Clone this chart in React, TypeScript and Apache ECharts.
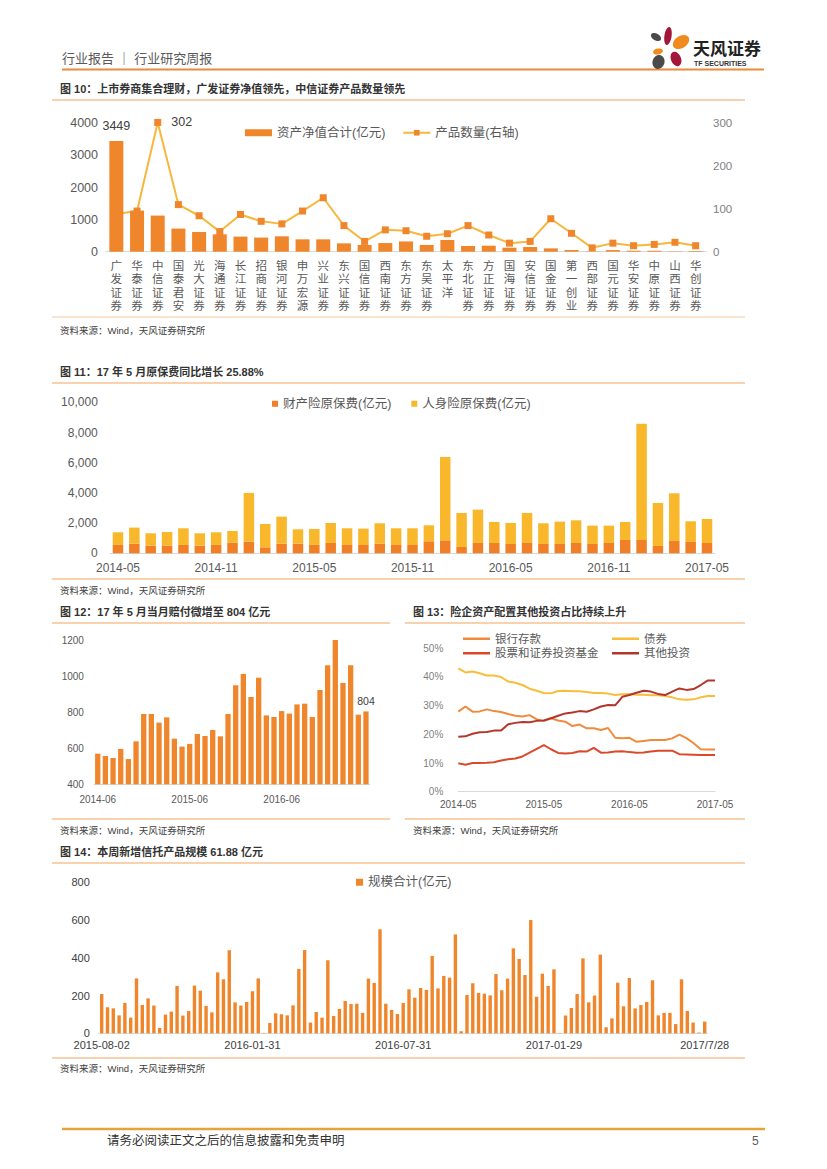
import React, { useEffect, useRef } from 'react';
import * as echarts from 'echarts';

// ---------- Chart 10 data ----------
const brokers = ['广发证券', '华泰证券', '中信证券', '国泰君安', '光大证券', '海通证券', '长江证券', '招商证券', '银河证券', '申万宏源', '兴业证券', '东兴证券', '国信证券', '西南证券', '东方证券', '东吴证券', '太平洋', '东北证券', '方正证券', '国海证券', '安信证券', '国金证券', '第一创业', '西部证券', '国元证券', '华安证券', '中原证券', '山西证券', '华创证券'];
const netAssets = [3449, 1280, 1125, 720, 615, 540, 470, 440, 480, 385, 385, 260, 210, 270, 320, 210, 365, 177, 187, 125, 146, 104, 52, 10, 50, 30, 30, 10, 20];
const productCounts = [88, 95, 302, 110, 84, 47, 87, 71, 65, 95, 126, 61, 24, 51, 49, 36, 42, 61, 39, 20, 24, 77, 43, 9, 20, 14, 17, 22, 14];

// ---------- Chart 11 data ----------
const propertyPremium = [552, 640, 508, 508, 552, 508, 552, 706, 773, 397, 640, 640, 552, 684, 552, 552, 640, 552, 552, 795, 861, 420, 684, 684, 618, 684, 618, 618, 684, 618, 684, 883, 883, 486, 817, 751, 684];
const lifePremium = [839, 1060, 817, 905, 1104, 817, 839, 773, 3223, 1546, 1788, 949, 1059, 1325, 1104, 1081, 1347, 1104, 1104, 1059, 5519, 2251, 2208, 1391, 1391, 1987, 1369, 1479, 1501, 1214, 1148, 1192, 7704, 2847, 3157, 1368, 1590];
const premiumTicks = [0, 2000, 4000, 6000, 8000, 10000];

// ---------- Chart 12 data ----------
const payouts = [570, 557, 546, 596, 540, 638, 790, 790, 742, 771, 653, 609, 624, 679, 668, 701, 666, 790, 949, 1012, 884, 991, 782, 773, 806, 792, 843, 847, 773, 923, 1060, 1200, 962, 1060, 786, 804];

// ---------- Chart 13 data ----------
const bankDeposit = [27.9, 29.7, 27.9, 28.0, 28.7, 28.1, 27.8, 27.1, 26.5, 26.2, 26.7, 25.2, 24.7, 25.6, 24.8, 24.4, 22.9, 23.4, 22.1, 22.1, 21.5, 22.2, 18.8, 18.6, 18.8, 17.4, 17.7, 18.0, 18.0, 18.0, 18.6, 19.9, 18.7, 16.9, 14.8, 14.7, 14.7];
const bonds = [43.0, 41.6, 41.9, 41.3, 40.5, 40.5, 40.0, 38.4, 38.0, 37.2, 35.9, 35.2, 34.4, 34.3, 35.1, 35.2, 35.0, 35.0, 34.8, 34.4, 34.4, 34.2, 33.7, 34.0, 34.1, 33.8, 33.8, 33.6, 33.6, 33.4, 32.9, 32.2, 32.1, 32.2, 32.9, 33.4, 33.4];
const stocksFunds = [9.9, 9.4, 10.0, 10.0, 10.1, 10.3, 10.9, 11.3, 11.6, 12.3, 13.6, 14.9, 16.2, 14.8, 13.5, 13.3, 13.5, 14.1, 14.0, 15.3, 13.6, 13.7, 14.0, 14.1, 13.8, 13.6, 13.7, 14.0, 14.3, 14.3, 14.3, 13.1, 13.0, 12.9, 12.8, 12.8, 12.8];
const otherInvest = [19.2, 19.3, 20.2, 20.7, 20.8, 21.3, 21.3, 23.5, 24.0, 24.3, 24.2, 24.7, 24.8, 25.6, 26.5, 27.3, 27.6, 28.1, 27.9, 28.7, 29.7, 30.2, 30.1, 33.1, 33.7, 34.5, 35.2, 34.9, 34.1, 33.7, 34.9, 36.0, 35.5, 35.8, 37.2, 38.8, 38.8];

// ---------- Chart 14 data ----------
const trustScale = [
  208, 138, 132, 95, 161, 83, 291, 150, 185, 147, 28, 99, 115, 251, 94, 118, 253, 226, 145, 111, 323, 286, 440, 164, 147, 166, 223, 291,
  2,
  55, 106, 101, 95, 148, 341, 441, 57, 113, 83, 387, 92, 129, 171, 155, 157, 108, 290, 267, 551, 157, 124, 102, 161,
  233, 189, 240, 230, 410, 238, 304, 295, 524, 11, 203, 265, 214, 210, 201, 314, 228, 290, 450, 394, 309, 600, 194, 316, 251, 339,
  2, 94, 134, 208, 397, 164, 200, 417, 32, 79, 268, 143, 293, 132, 150, 166, 281, 95, 108, 108, 49, 286, 118, 57, 4, 62,
];

function monthLabels(year: number, month: number, n: number): string[] {
  const out: string[] = [];
  for (let i = 0; i < n; i++) {
    const mm = month - 1 + i;
    out.push(`${year + Math.floor(mm / 12)}-${String((mm % 12) + 1).padStart(2, '0')}`);
  }
  return out;
}
function weekLabels(start: string, n: number, lastLabel: string): string[] {
  const out: string[] = [];
  const t0 = Date.parse(start + 'T00:00:00Z');
  for (let i = 0; i < n; i++) {
    const d = new Date(t0 + i * 7 * 86400000);
    out.push(`${d.getUTCFullYear()}-${String(d.getUTCMonth() + 1).padStart(2, '0')}-${String(d.getUTCDate()).padStart(2, '0')}`);
  }
  out[n - 1] = lastLabel;
  return out;
}

const premiumMonths = monthLabels(2014, 5, 37);
const payoutMonths = monthLabels(2014, 6, 36);
const allocMonths = monthLabels(2014, 5, 37);
const trustWeeks = weekLabels('2015-08-02', 105, '2017/7/28');

const FONT = "'Liberation Sans', 'Noto Sans CJK SC', sans-serif";
const ORANGE = '#F0862C';
const YELLOW = '#F9B82C';
const AXIS_GRAY = '#D9D9D9';
const LABEL_GRAY = '#595959';

function text(x: number, y: number, t: string, fontSize: number, fill: string, extra: any = {}) {
  return {
    type: 'text',
    x,
    y,
    silent: true,
    style: { text: t, fontSize, fill, fontFamily: FONT, verticalAlign: 'middle', align: 'left', ...extra },
  };
}
function hline(x1: number, x2: number, y: number, stroke: string, lineWidth: number) {
  return { type: 'line', silent: true, shape: { x1, y1: y, x2, y2: y }, style: { stroke, lineWidth } };
}
function petal(cx: number, cy: number, rx: number, ry: number, rot: number, fill: string) {
  return { type: 'ellipse', x: cx, y: cy, rotation: rot, silent: true, shape: { cx: 0, cy: 0, rx, ry }, style: { fill } };
}

function buildOption(): any {
  const TITLE_LINE = '#F2A460';
  const BOTTOM_LINE = '#F6C9A2';
  const graphic: any[] = [
    // header
    text(62, 58, '行业报告 ｜ 行业研究周报', 13, '#595959'),
    hline(62, 764, 69.5, '#E98B3A', 2),
    petal(656, 37, 5.5, 3.5, -0.5, '#4A4A4A'),
    petal(668, 36, 3.6, 9, -0.15, '#A3163A'),
    petal(681, 42, 9, 6, 0.6, '#F08A1C'),
    petal(658, 51.5, 5, 3, 0.2, '#F08A1C'),
    petal(676, 59, 5, 7.5, 0.4, '#A3163A'),
    petal(658.5, 62, 6, 7, -0.3, '#4A4A4A'),
    text(693, 49, '天风证券', 17, '#222', { fontWeight: 'bold' }),
    text(694, 63, 'TF SECURITIES', 7, '#333', { fontWeight: 'bold' }),
    // chart 10 frame
    text(60, 89, '图 10：上市券商集合理财，广发证券净值领先，中信证券产品数量领先', 11, '#333', { fontWeight: 'bold' }),
    hline(52, 745, 100, TITLE_LINE, 1.2),
    hline(52, 745, 317, BOTTOM_LINE, 1.2),
    text(60, 330, '资料来源：Wind，天风证券研究所', 9.5, '#404040'),
    // chart 11 frame
    text(60, 372, '图 11：17 年 5 月原保费同比增长 25.88%', 11, '#333', { fontWeight: 'bold' }),
    hline(52, 745, 383, TITLE_LINE, 1.2),
    hline(52, 745, 579, TITLE_LINE, 1.2),
    text(60, 590, '资料来源：Wind，天风证券研究所', 9.5, '#404040'),
    // chart 12 frame
    text(60, 612, '图 12：17 年 5 月当月赔付微增至 804 亿元', 11, '#333', { fontWeight: 'bold' }),
    hline(52, 390, 623, TITLE_LINE, 1.2),
    hline(52, 390, 819, TITLE_LINE, 1.2),
    text(60, 830, '资料来源：Wind，天风证券研究所', 9.5, '#404040'),
    // chart 13 frame
    text(413, 612, '图 13：险企资产配置其他投资占比持续上升', 11, '#333', { fontWeight: 'bold' }),
    hline(405, 745, 623, TITLE_LINE, 1.2),
    hline(405, 745, 819, TITLE_LINE, 1.2),
    text(413, 830, '资料来源：Wind，天风证券研究所', 9.5, '#404040'),
    // chart 14 frame
    text(60, 852, '图 14：本周新增信托产品规模 61.88 亿元', 11, '#333', { fontWeight: 'bold' }),
    hline(52, 745, 863, TITLE_LINE, 1.2),
    hline(52, 745, 1058, TITLE_LINE, 1.2),
    text(60, 1068, '资料来源：Wind，天风证券研究所', 9.5, '#404040'),
    // footer
    hline(62, 765, 1129, '#E8A23A', 2.5),
    text(107, 1141, '请务必阅读正文之后的信息披露和免责申明', 12.5, '#333'),
    text(752, 1141, '5', 12, '#595959'),
  ];

  const gridBase = { containLabel: false, outerBoundsMode: 'none' };
  const grid = [
    { left: 106, top: 123.3, width: 600, height: 128.4 },
    { left: 109.8, top: 402.3, width: 605.4, height: 151 },
    { left: 93.9, top: 640, width: 275.9, height: 144.3 },
    { left: 458.3, top: 648.3, width: 256.7, height: 143.4 },
    { left: 98.8, top: 882.3, width: 608.8, height: 151 },
  ].map((g) => ({ ...gridBase, ...g }));

  const catAxis = (gridIndex: number, data: string[], label: any, extra: any = {}) => ({
    type: 'category',
    gridIndex,
    data,
    axisTick: { show: false },
    axisLine: { show: true, lineStyle: { color: AXIS_GRAY, width: 1 } },
    axisLabel: { fontFamily: FONT, color: LABEL_GRAY, ...label },
    splitLine: { show: false },
    ...extra,
  });
  const plain = (v: number) => String(v);
  const valAxis = (gridIndex: number, min: number, max: number, interval: number, label: any, extra: any = {}) => ({
    type: 'value',
    gridIndex,
    min,
    max,
    interval,
    axisTick: { show: false },
    axisLine: { show: false },
    splitLine: { show: false },
    axisLabel: { fontFamily: FONT, color: LABEL_GRAY, formatter: plain, ...label },
    ...extra,
  });

  const xAxis = [
    catAxis(0, brokers, {
      interval: 0,
      fontSize: 11.5,
      lineHeight: 13.2,
      margin: 8,
      verticalAlign: 'top',
      formatter: (v: string) => v.split('').join('\n'),
    }),
    catAxis(1, premiumMonths, { interval: 5, fontSize: 12, margin: 9 }),
    catAxis(2, payoutMonths, { interval: 11, fontSize: 10, margin: 10 }),
    catAxis(3, allocMonths, { interval: 11, fontSize: 10, margin: 8, color: '#595959' }, { boundaryGap: false }),
    catAxis(4, trustWeeks, { interval: 25, fontSize: 11, margin: 6, color: '#404040' }),
  ];

  const yAxis = [
    valAxis(0, 0, 4000, 1000, { fontSize: 12.5, margin: 8 }),
    valAxis(0, 0, 300, 100, { fontSize: 11.5, margin: 7, color: '#7F7F7F' }, { position: 'right' }),
    valAxis(1, premiumTicks[0], premiumTicks[premiumTicks.length - 1], 2000, {
      fontSize: 12,
      margin: 12,
      formatter: (v: number) => v.toLocaleString('en-US'),
    }),
    valAxis(2, 400, 1200, 200, { fontSize: 10, margin: 10 }),
    valAxis(3, 0, 50, 10, { fontSize: 10, margin: 15, color: '#7F7F7F', formatter: '{value}%' }),
    valAxis(4, 0, 800, 200, { fontSize: 11, margin: 9, color: '#404040' }),
  ];

  const legendText = (fontSize: number) => ({ fontFamily: FONT, fontSize, color: LABEL_GRAY });
  const lineLegend = (left: number, top: number, name: string) => ({
    left,
    top,
    padding: 0,
    itemWidth: 27,
    itemHeight: 2.5,
    textStyle: legendText(11.5),
    data: [{ name, icon: 'rect' }],
  });
  const legend = [
    {
      left: 245,
      top: 126.5,
      padding: 0,
      itemGap: 17,
      itemWidth: 27,
      itemHeight: 7,
      textStyle: legendText(12.5),
      data: [{ name: '资产净值合计(亿元)', icon: 'rect' }, { name: '产品数量(右轴)' }],
    },
    {
      left: 272,
      top: 397.5,
      padding: 0,
      itemGap: 20,
      itemWidth: 6,
      itemHeight: 6,
      textStyle: legendText(12.5),
      data: [{ name: '财产险原保费(亿元)', icon: 'rect' }, { name: '人身险原保费(亿元)', icon: 'rect' }],
    },
    lineLegend(463, 633, '银行存款'),
    lineLegend(612, 633, '债券'),
    lineLegend(463, 647.5, '股票和证券投资基金'),
    lineLegend(612, 647.5, '其他投资'),
    {
      left: 356,
      top: 876,
      padding: 0,
      itemWidth: 7,
      itemHeight: 7,
      textStyle: legendText(12.5),
      data: [{ name: '规模合计(亿元)', icon: 'rect' }],
    },
  ];

  const lineSeries = (name: string, data: number[], color: string) => ({
    name,
    type: 'line',
    xAxisIndex: 3,
    yAxisIndex: 4,
    data,
    symbol: 'none',
    lineStyle: { color, width: 2 },
    itemStyle: { color },
  });

  const series: any[] = [
    {
      name: '资产净值合计(亿元)',
      type: 'bar',
      xAxisIndex: 0,
      yAxisIndex: 0,
      z: 3,
      barWidth: 14,
      itemStyle: { color: ORANGE },
      data: netAssets.map((v, i) =>
        i === 0
          ? { value: v, label: { show: true, position: 'top', distance: 9, fontSize: 12.5, fontFamily: FONT, color: '#404040' } }
          : v
      ),
    },
    {
      name: '产品数量(右轴)',
      type: 'line',
      xAxisIndex: 0,
      yAxisIndex: 1,
      z: 2,
      clip: false,
      symbol: 'rect',
      symbolSize: 7,
      lineStyle: { color: '#F6B73C', width: 2 },
      itemStyle: { color: ORANGE },
      data: productCounts.map((v, i) =>
        i === 2
          ? { value: v, label: { show: true, position: 'right', distance: 10, fontSize: 12.5, fontFamily: FONT, color: '#404040' } }
          : v
      ),
    },
    {
      name: '财产险原保费(亿元)',
      type: 'bar',
      stack: 'premium',
      xAxisIndex: 1,
      yAxisIndex: 2,
      barWidth: 10.5,
      itemStyle: { color: '#F17F28' },
      data: propertyPremium,
    },
    {
      name: '人身险原保费(亿元)',
      type: 'bar',
      stack: 'premium',
      xAxisIndex: 1,
      yAxisIndex: 2,
      barWidth: 10.5,
      itemStyle: { color: YELLOW },
      data: lifePremium,
    },
    {
      name: '当月赔付',
      type: 'bar',
      xAxisIndex: 2,
      yAxisIndex: 3,
      barWidth: 5.3,
      itemStyle: { color: ORANGE },
      data: payouts.map((v, i) =>
        i === payouts.length - 1
          ? { value: v, label: { show: true, position: 'top', distance: 5, fontSize: 10.5, fontFamily: FONT, color: '#404040' } }
          : v
      ),
    },
    lineSeries('银行存款', bankDeposit, '#F08A3C'),
    lineSeries('债券', bonds, '#F8BE3A'),
    lineSeries('股票和证券投资基金', stocksFunds, '#DA4A28'),
    lineSeries('其他投资', otherInvest, '#B3362C'),
    {
      name: '规模合计(亿元)',
      type: 'bar',
      xAxisIndex: 4,
      yAxisIndex: 5,
      barWidth: 3.4,
      itemStyle: { color: ORANGE },
      data: trustScale,
    },
  ];

  return {
    animation: false,
    backgroundColor: '#ffffff',
    textStyle: { fontFamily: FONT },
    grid,
    xAxis,
    yAxis,
    legend,
    series,
    graphic,
  };
}

export default function App() {
  const ref = useRef<HTMLDivElement>(null);
  useEffect(() => {
    if (!ref.current) return;
    const chart = echarts.init(ref.current, undefined, { renderer: 'svg' });
    chart.setOption(buildOption());
    return () => {
      chart.dispose();
    };
  }, []);
  return (
    <div
      ref={ref}
      style={{ position: 'absolute', left: 0, top: 0, width: 827, height: 1169, background: '#fff' }}
    />
  );
}
